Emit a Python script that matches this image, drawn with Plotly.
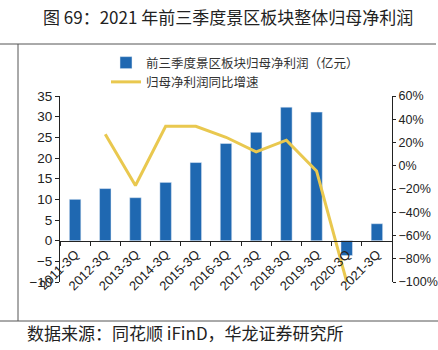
import plotly.graph_objects as go

categories = ["2011-3Q", "2012-3Q", "2013-3Q", "2014-3Q", "2015-3Q", "2016-3Q",
              "2017-3Q", "2018-3Q", "2019-3Q", "2020-3Q", "2021-3Q"]
profit = [10.0, 12.6, 10.4, 14.1, 18.9, 23.5, 26.2, 32.3, 31.1, -3.6, 4.1]
growth = [None, 0.27, -0.17, 0.34, 0.34, 0.245, 0.12, 0.22, -0.045, -1.0, None]

bar_name = "前三季度景区板块归母净利润（亿元）"
line_name = "归母净利润同比增速"
title_text = "图 69：2021 年前三季度景区板块整体归母净利润"
source_text = "数据来源：同花顺 iFinD，华龙证券研究所"

W, H = 438, 350
L, R, T, B = 60, 46, 96, 68
pw, ph = W - L - R, H - T - B

def px(x):
    return (x - L) / pw

def py(y):
    return (H - B - y) / ph

cjk = "Noto Sans CJK SC"
latin = "Liberation Sans, Arial, sans-serif"

fig = go.Figure()
fig.add_trace(go.Bar(x=categories, y=profit, name=bar_name, marker_color="#1f68b1",
                     width=0.38, yaxis="y"))
fig.add_trace(go.Scatter(x=categories, y=growth, name=line_name, mode="lines",
                         line=dict(color="#e9c84f", width=3), yaxis="y2",
                         connectgaps=False))

fig.update_layout(
    width=W, height=H,
    margin=dict(l=L, r=R, t=T, b=B, autoexpand=False),
    paper_bgcolor="white", plot_bgcolor="white",
    showlegend=True,
    legend=dict(x=px(106), y=py(48), xanchor="left", yanchor="top",
                font=dict(family=cjk, size=12.5, color="#333"),
                bgcolor="rgba(0,0,0,0)", tracegroupgap=0, itemwidth=30),
    xaxis=dict(type="category", anchor="free", position=10 / 45,
               showline=True, linecolor="#222", linewidth=1,
               ticks="outside", ticklen=4, tickcolor="#222", tickson="boundaries",
               tickangle=-45, tickfont=dict(family=latin, size=13, color="#222"),
               showgrid=False, zeroline=False, range=[-0.5, 10.5], automargin=False),
    yaxis=dict(range=[-10, 35], dtick=5, showline=True, linecolor="#222", linewidth=1,
               ticks="outside", ticklen=4, tickcolor="#222", showgrid=False,
               zeroline=False, automargin=False,
               tickfont=dict(family=latin, size=13.5, color="#222")),
    yaxis2=dict(range=[-1.0, 0.6], dtick=0.2, tickformat=".0%", overlaying="y",
                side="right", anchor="free", position=1, showline=True,
                linecolor="#222", linewidth=1, ticks="outside", ticklen=3,
                tickcolor="#222", showgrid=False, zeroline=False, automargin=False,
                tickfont=dict(family=latin, size=12.5, color="#222")),
    bargap=0.6,
)

# frame lines
line_style = dict(color="#555", width=1)
fig.add_shape(type="line", xref="paper", yref="paper", x0=px(0), x1=px(436),
              y0=py(44), y1=py(44), line=line_style)
fig.add_shape(type="line", xref="paper", yref="paper", x0=px(18), x1=px(18),
              y0=py(44), y1=py(321), line=line_style)
fig.add_shape(type="line", xref="paper", yref="paper", x0=px(0), x1=px(438),
              y0=py(321), y1=py(321), line=line_style)

fig.add_annotation(text=title_text, xref="paper", yref="paper", x=px(228), y=py(17),
                   xanchor="center", yanchor="middle", showarrow=False,
                   font=dict(family=cjk, size=17, color="#222"))
fig.add_annotation(text=source_text, xref="paper", yref="paper", x=px(25), y=py(332),
                   xanchor="left", yanchor="middle", showarrow=False,
                   font=dict(family=cjk, size=17, color="#222"))

fig.write_html("out.html")
